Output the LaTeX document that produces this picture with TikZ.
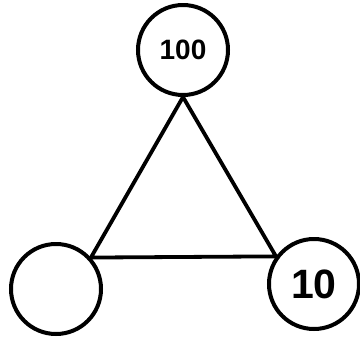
\documentclass[tikz,border=0pt]{standalone}
\usepackage{fontspec}
\setmainfont{Liberation Sans}
\begin{document}
\begin{tikzpicture}[x=1pt,y=-1pt,
  vnode/.style={circle,draw,line width=4pt,minimum size=90pt,inner sep=0pt},
  edge/.style={line width=3.8pt}]
\useasboundingbox (0,0) rectangle (360,338);
\node[vnode,font=\fontsize{28}{28}\selectfont\bfseries] (a) at (183,50) {100};
\node[vnode] (b) at (56,289) {};
\node[vnode,font=\fontsize{41}{41}\selectfont\bfseries] (c) at (314,284) {10};
\draw[edge,line join=miter] (a.south) -- (b.42) -- (c.144) -- cycle;
\end{tikzpicture}
\end{document}
